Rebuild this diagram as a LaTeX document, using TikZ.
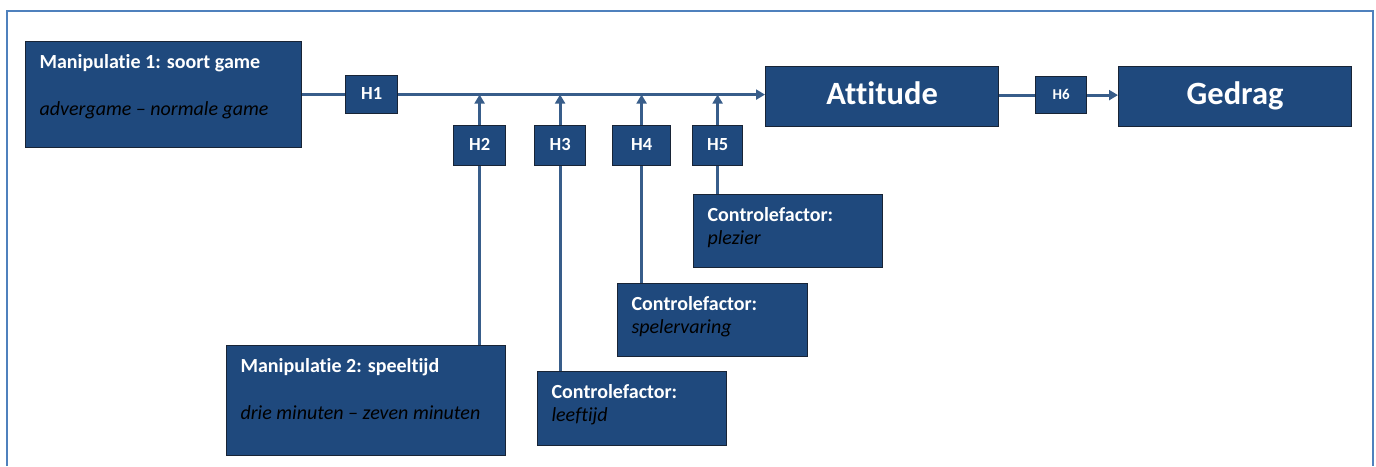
\documentclass[tikz,border=0pt]{standalone}
\usepackage{fontspec}
\setmainfont{Carlito}[Ligatures=NoCommon]
\usepackage{tikz}
\usepackage{xcolor}
\usetikzlibrary{positioning, arrows.meta}

\definecolor{vakblauw}{RGB}{31,73,125}
\definecolor{vakrand}{RGB}{24,36,54}
\definecolor{lijnblauw}{RGB}{56,93,138}
\definecolor{kaderblauw}{RGB}{79,129,189}

% text block inside a box: width, height, content
\newcommand{\vaktekst}[3]{\parbox[t][#2][t]{#1}{\leftskip=14pt\fontsize{20}{23.5}\selectfont\rule{0pt}{26.5pt}#3}}
\newcommand{\kop}[1]{\textbf{\color{white}#1}}

\tikzset{
  vak/.style={draw=vakrand, line width=1.2pt, fill=vakblauw, inner sep=0pt, anchor=north west},
  hvak/.style={vak, text=white, font=\bfseries\fontsize{18.5}{20}\selectfont, text height=13pt, text depth=3.7pt},
  grootvak/.style={vak, text=white, font=\bfseries\fontsize{32.5}{36}\selectfont, text height=22.7pt, text depth=6.5pt},
  lijn/.style={draw=lijnblauw, line width=3pt},
}

\begin{document}
\begin{tikzpicture}[x=1pt, y=-1pt, >={Triangle[length=9pt,width=10pt]}] % Arrow tip style
    \useasboundingbox (0,0) rectangle (1376,466);

    % Outer frame, open at the bottom
    \draw[kaderblauw, line width=2pt] (7,466) -- (7,11) -- (1373,11) -- (1373,466);

    % Boxes with a title and an italic line
    \node[vak] (m1) at (25,41) {\vaktekst{276pt}{106pt}{\kop{Manipulatie 1: soort game}\\[23.5pt]\textit{advergame -- normale game}}};
    \node[vak] (m2) at (226,345) {\vaktekst{279pt}{110pt}{\kop{Manipulatie 2: speeltijd}\\[23.5pt]\textit{drie minuten -- zeven minuten}}};
    \node[vak] (c1) at (537,371) {\vaktekst{189pt}{74pt}{\kop{Controlefactor:}\\\textit{leeftijd}}};
    \node[vak] (c2) at (617,283) {\vaktekst{190pt}{73pt}{\kop{Controlefactor:}\\\textit{spelervaring}}};
    \node[vak] (c3) at (693,194) {\vaktekst{189pt}{73pt}{\kop{Controlefactor:}\\\textit{plezier}}};

    % Hypothesis boxes
    \node[hvak, minimum width=52pt, minimum height=38pt] (h1) at (345,75) {H1};
    \node[hvak, minimum width=52pt, minimum height=40pt] (h2) at (453,125) {H2};
    \node[hvak, minimum width=51pt, minimum height=40pt] (h3) at (534,125) {H3};
    \node[hvak, minimum width=58pt, minimum height=40pt] (h4) at (612,125) {H4};
    \node[hvak, minimum width=50pt, minimum height=40pt] (h5) at (692,125) {H5};
    \node[hvak, minimum width=51pt, minimum height=37pt, font=\bfseries\fontsize{15}{17}\selectfont] (h6) at (1035,76) {H6};

    % Outcome boxes
    \node[grootvak, minimum width=233pt, minimum height=60pt] (att) at (765,66) {Attitude};
    \node[grootvak, minimum width=233pt, minimum height=60pt] (ged) at (1118,66) {Gedrag};

    % Main line to Attitude
    \draw[lijn] (m1.east |- h1) -- (h1);
    \draw[lijn,->] (h1) -- (h1 -| att.west);

    % Vertical lines from the factors to the main line
    \draw[lijn] (m2.north -| h2) -- (h2);
    \draw[lijn,->] (h2) -- (h2 |- h1);
    \draw[lijn] (c1.north -| h3) -- (h3);
    \draw[lijn,->] (h3) -- (h3 |- h1);
    \draw[lijn] (c2.north -| h4) -- (h4);
    \draw[lijn,->] (h4) -- (h4 |- h1);
    \draw[lijn] (c3.north -| h5) -- (h5);
    \draw[lijn,->] (h5) -- (h5 |- h1);

    % Attitude to Gedrag
    \draw[lijn] (att.east |- h6) -- (h6);
    \draw[lijn,->] (h6) -- (h6 -| ged.west);
\end{tikzpicture}
\end{document}
